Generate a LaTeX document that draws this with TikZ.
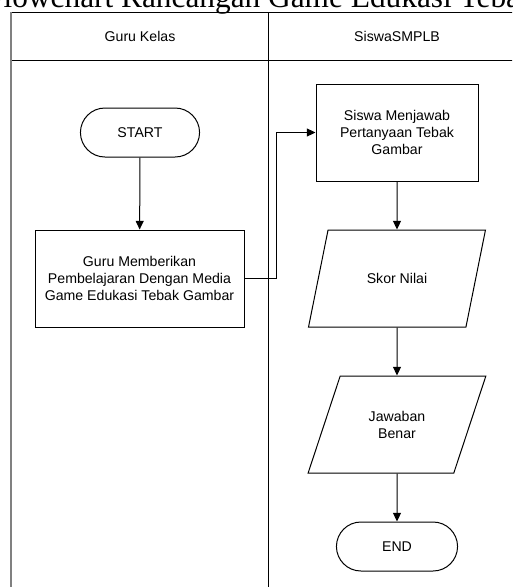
\documentclass[tikz,border=0pt]{standalone}
\usepackage{fontspec}
\setmainfont{Liberation Sans}
\newfontfamily\judulfont{Liberation Serif}
\usetikzlibrary{arrows.meta, shapes.geometric, shapes.misc}

\newcommand{\flowfont}{\fontsize{10.6}{12.75}\selectfont}
\tikzset{
  terminal/.style={rounded rectangle, draw, line width=0.75pt, minimum width=96pt, minimum height=36.75pt, font=\flowfont},
  proses/.style={rectangle, draw, line width=0.75pt, minimum height=72.75pt, align=center, font=\flowfont},
  datanode/.style={trapezium, trapezium left angle=63, trapezium right angle=117, trapezium stretches=true, draw, line width=0.75pt, minimum width=133.5pt, minimum height=72.75pt, align=center, font=\flowfont},
  panah/.style={-{Triangle[length=6.5pt,width=6pt]}, line width=0.75pt},
}

\begin{document}
\begin{tikzpicture}[x=0.75pt, y=-0.75pt]
        \useasboundingbox (0,0) rectangle (512,587);
        \clip (0,0) rectangle (512,587);

        % judul (terpotong di atas)
        \node[anchor=base west, inner sep=0pt, font=\judulfont\fontsize{23.5}{26}\selectfont] at (-14,7) (judul) {Flowchart Rancangan Game Edukasi Tebak Gambar};

        % swimlane
        \draw[line width=0.75pt] (11,12) -- (530,12);
        \draw[line width=0.75pt] (11,60) -- (530,60);
        \draw[line width=0.75pt] (268,12) -- (268,600);
        \draw[gray, line width=1.5pt] (11,12) -- (11,600);
        \node[font=\flowfont] at (140,36) (lane1) {Guru Kelas};
        \node[font=\flowfont] at (397,36) (lane2) {SiswaSMPLB};

        \node[terminal] at (140,132.5) (start) {START};
        \node[proses, minimum width=156.75pt] at (139.5,278.5) (guru) {Guru Memberikan\\Pembelajaran Dengan Media\\Game Edukasi Tebak Gambar};
        \node[proses, minimum width=121.5pt] at (397,132.5) (jawab) {Siswa Menjawab\\Pertanyaan Tebak\\Gambar};
        \node[datanode] at (397,278.5) (skor) {Skor Nilai};
        \node[datanode] at (397,424.5) (benar) {Jawaban\\Benar};
        \node[terminal, minimum width=97.5pt] at (397,546.5) (end) {END};

        \draw[panah] (start) -- (guru);
        \draw[panah] (guru.east) -- ++(32,0) |- (jawab.west);
        \draw[panah] (jawab) -- (skor);
        \draw[panah] (skor) -- (benar);
        \draw[panah] (benar) -- (end);
\end{tikzpicture}
\end{document}
